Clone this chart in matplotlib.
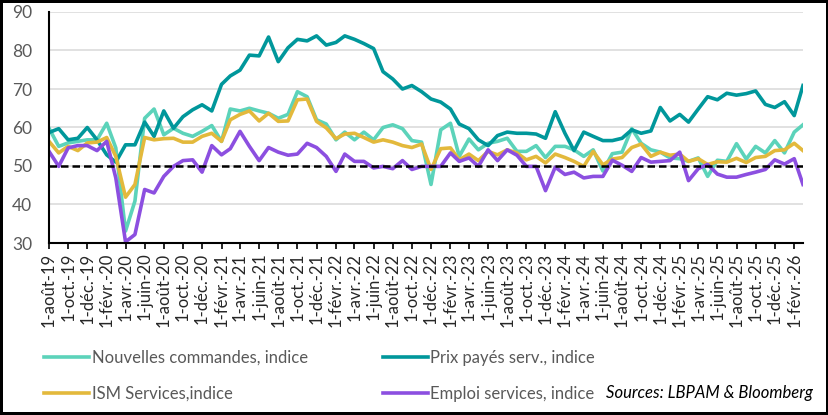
import matplotlib.pyplot as plt
import pandas as pd

plt.rcParams['font.family'] = ['Lato', 'DejaVu Sans']

# monthly data, Aug 2019 -> Mar 2026
dates = pd.date_range('2019-08-01', periods=80, freq='MS')

nouvelles_commandes = [
    59.8, 55.1, 56.0, 56.4, 56.8, 56.8, 61.1, 54.7, 33.1, 40.9, 62.4, 64.8, 58.1, 59.8, 58.5,
    57.7, 59.0, 60.5, 56.4, 64.8, 64.3, 65.0, 64.3, 63.7, 62.4, 63.4, 69.3, 68.0, 62.0, 60.9,
    56.8, 58.8, 56.8, 58.8, 56.8, 60.0, 60.7, 59.7, 56.6, 56.2, 45.2, 59.4, 61.1, 52.5, 57.0,
    54.2, 55.9, 56.4, 57.2, 53.8, 53.8, 55.3, 52.2, 55.1, 55.1, 54.2, 52.5, 54.2, 48.7, 53.2,
    53.6, 59.7, 55.9, 54.2, 53.6, 52.1, 51.9, 51.2, 52.1, 47.3, 51.5, 51.2, 55.8, 51.8, 55.1,
    53.4, 56.6, 53.4, 58.8, 60.7,
]
prix_payes = [
    58.7, 59.7, 56.8, 57.2, 60.0, 56.8, 52.9, 51.0, 55.5, 55.5, 61.4, 57.7, 64.3, 59.8, 62.8,
    64.6, 65.9, 64.3, 71.2, 73.4, 74.9, 78.8, 78.6, 83.5, 77.1, 80.7, 82.9, 82.5, 83.8, 81.4,
    82.1, 83.8, 82.9, 81.8, 80.5, 74.5, 72.6, 70.0, 70.9, 69.3, 67.4, 66.6, 64.8, 60.9, 59.7,
    56.8, 55.3, 57.9, 58.8, 58.5, 58.5, 58.3, 57.2, 64.1, 58.5, 54.0, 58.8, 57.7, 56.6, 56.6,
    57.2, 59.4, 58.5, 59.1, 65.2, 61.7, 63.4, 61.4, 64.8, 68.0, 67.2, 68.9, 68.4, 68.8, 69.5,
    66.0, 65.2, 66.7, 63.1, 70.9,
]
ism_services = [
    56.4, 53.4, 55.1, 54.0, 56.0, 56.2, 57.4, 52.5, 41.9, 45.2, 57.4, 56.8, 57.1, 57.2, 56.2,
    56.2, 57.7, 58.5, 56.4, 62.0, 63.4, 64.3, 61.7, 63.7, 61.6, 61.7, 67.2, 67.4, 61.6, 59.9,
    57.1, 58.3, 58.5, 57.4, 56.2, 56.8, 56.2, 55.3, 54.8, 55.7, 49.1, 54.5, 54.7, 51.6, 53.1,
    51.4, 53.8, 52.9, 54.2, 53.4, 51.6, 52.5, 50.8, 53.1, 52.2, 51.2, 49.9, 53.8, 50.3, 51.8,
    52.2, 54.8, 55.7, 52.5, 53.6, 52.8, 53.1, 51.2, 51.9, 50.4, 51.1, 51.0, 52.0, 50.9, 52.2,
    52.5, 54.0, 54.2, 55.9, 54.0,
]
emploi = [
    53.8, 49.9, 54.7, 55.3, 55.3, 54.0, 56.4, 46.9, 30.3, 32.2, 43.9, 43.0, 47.3, 49.9, 51.4,
    51.6, 48.4, 55.3, 52.9, 54.5, 59.0, 55.1, 51.4, 54.8, 53.6, 52.8, 53.1, 55.9, 54.8, 52.5,
    48.6, 53.1, 51.2, 51.2, 49.5, 49.9, 49.3, 51.4, 49.1, 49.9, 49.9, 49.9, 53.4, 51.2, 52.1,
    49.9, 54.2, 51.4, 54.2, 52.8, 49.9, 49.9, 43.6, 49.7, 47.8, 48.4, 46.9, 47.3, 47.3, 51.5,
    50.2, 48.6, 52.2, 51.0, 51.2, 51.4, 53.6, 46.2, 49.3, 50.4, 47.9, 47.1, 47.1, 47.8, 48.4,
    49.1, 51.6, 50.5, 51.9, 45.2,
]
seuil = 50

mois = ['janv.', 'févr.', 'mars', 'avr.', 'mai', 'juin',
        'juil.', 'août', 'sept.', 'oct.', 'nov.', 'déc.']
tick_dates = pd.date_range('2019-08-01', '2026-02-01', freq='2MS')
tick_labels = [f"1-{mois[d.month - 1]}-{d:%y}" for d in tick_dates]

c_nc = '#5CD3BA'
c_prix = '#00979B'
c_ism = '#E3B93C'
c_emp = '#8C4FE0'
grey = '#595959'

fig = plt.figure(figsize=(8.29, 4.15), dpi=100)
fig.patch.set_edgecolor('black')
fig.patch.set_linewidth(4)
ax = fig.add_axes([49 / 829, 1 - 243 / 415, (803 - 49) / 829, (243 - 12) / 415])

l1, = ax.plot(dates, nouvelles_commandes, color=c_nc, lw=2.6, label='Nouvelles commandes, indice')
l2, = ax.plot(dates, prix_payes, color=c_prix, lw=2.6, label='Prix payés serv., indice')
l3, = ax.plot(dates, ism_services, color=c_ism, lw=2.6, label='ISM Services,indice')
l4, = ax.plot(dates, emploi, color=c_emp, lw=2.6, label='Emploi services, indice')
ax.plot(dates, [seuil] * len(dates), color='black', lw=1.8, ls=(0, (3, 1.6)), zorder=5)

ax.set_xlim(dates[0], dates[-1])
ax.set_ylim(30, 90)
ax.set_yticks(range(30, 91, 10))
ax.grid(axis='y', color='#D9D9D9', lw=1.1)
ax.set_axisbelow(True)
for s in ['top', 'right']:
    ax.spines[s].set_visible(False)
for s in ['left', 'bottom']:
    ax.spines[s].set_linewidth(1.5)

ax.set_xticks(tick_dates)
ax.set_xticklabels(tick_labels, rotation=90, fontsize=12, color='#262626')
ax.tick_params(axis='x', direction='out', length=4, width=1.2, pad=3)
ax.tick_params(axis='y', length=0, pad=12, labelsize=12.5, labelcolor=grey)

fig.legend(handles=[l1, l3, l2, l4], ncol=2, frameon=False,
           loc='upper left', bbox_to_anchor=(44 / 829, 1 - 350 / 415),
           fontsize=12, labelcolor=grey, handlelength=2.7, handletextpad=0.15,
           columnspacing=4.5, labelspacing=1.2, borderpad=0, borderaxespad=0)

fig.text(813 / 829, 1 - 393 / 415, 'Sources: LBPAM & Bloomberg',
         ha='right', va='center', style='italic', fontsize=12, color='black')

fig.savefig('out.png', dpi=100)
